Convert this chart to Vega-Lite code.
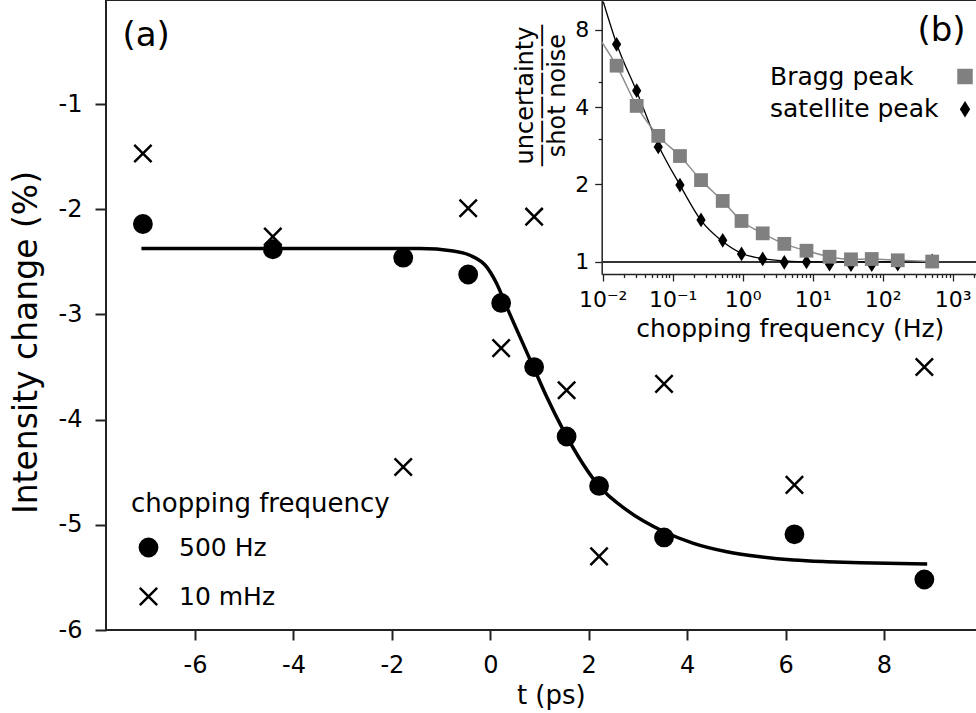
{
  "$schema": "https://vega.github.io/schema/vega-lite/v6.json",
  "width": 872,
  "height": 630,
  "autosize": {"type": "none"},
  "padding": {"left": 106, "top": 0, "right": 0, "bottom": 83},
  "background": "white",
  "config": {
    "font": "DejaVu Sans",
    "view": {"stroke": "#222", "strokeWidth": 2},
    "axis": {"grid": false, "labelColor": "black", "titleColor": "black", "tickColor": "#222", "domainColor": "#222", "titleFontWeight": "normal"},
    "legend": {"labelColor": "black", "titleColor": "black", "titleFontWeight": "normal"}
  },
  "datasets": {
    "main": [
      {"t": -7.06, "v": -2.14, "series": "500 Hz"},
      {"t": -4.42, "v": -2.38, "series": "500 Hz"},
      {"t": -1.77, "v": -2.46, "series": "500 Hz"},
      {"t": -0.45, "v": -2.62, "series": "500 Hz"},
      {"t": 0.22, "v": -2.89, "series": "500 Hz"},
      {"t": 0.89, "v": -3.5, "series": "500 Hz"},
      {"t": 1.55, "v": -4.16, "series": "500 Hz"},
      {"t": 2.21, "v": -4.63, "series": "500 Hz"},
      {"t": 3.53, "v": -5.12, "series": "500 Hz"},
      {"t": 6.18, "v": -5.09, "series": "500 Hz"},
      {"t": 8.82, "v": -5.52, "series": "500 Hz"},
      {"t": -7.06, "v": -1.47, "series": "10 mHz"},
      {"t": -4.42, "v": -2.26, "series": "10 mHz"},
      {"t": -1.77, "v": -4.45, "series": "10 mHz"},
      {"t": -0.45, "v": -1.99, "series": "10 mHz"},
      {"t": 0.22, "v": -3.32, "series": "10 mHz"},
      {"t": 0.89, "v": -2.07, "series": "10 mHz"},
      {"t": 1.55, "v": -3.72, "series": "10 mHz"},
      {"t": 2.21, "v": -5.3, "series": "10 mHz"},
      {"t": 3.53, "v": -3.66, "series": "10 mHz"},
      {"t": 6.18, "v": -4.62, "series": "10 mHz"},
      {"t": 8.82, "v": -3.5, "series": "10 mHz"}
    ],
    "fit": [
      {"t": -7.09, "v": -2.373},
      {"t": -1.43, "v": -2.373},
      {"t": -0.755, "v": -2.396},
      {"t": -0.415, "v": -2.437},
      {"t": -0.075, "v": -2.548},
      {"t": 0.128, "v": -2.706},
      {"t": 0.332, "v": -2.928},
      {"t": 0.602, "v": -3.213},
      {"t": 0.873, "v": -3.498},
      {"t": 1.145, "v": -3.783},
      {"t": 1.483, "v": -4.1},
      {"t": 2.21, "v": -4.632},
      {"t": 2.773, "v": -4.86},
      {"t": 3.532, "v": -5.066},
      {"t": 4.128, "v": -5.176},
      {"t": 4.808, "v": -5.256},
      {"t": 5.485, "v": -5.304},
      {"t": 6.163, "v": -5.335},
      {"t": 6.842, "v": -5.351},
      {"t": 7.52, "v": -5.361},
      {"t": 8.877, "v": -5.373}
    ],
    "labels": [
      {"t": -7.475, "v": -0.447, "text": "(a)"},
      {"t": 8.68, "v": -0.399, "text": "(b)"}
    ],
    "inset": [
      {"f": 0.0158, "r": 7.01, "peak": "satellite peak"},
      {"f": 0.0306, "r": 4.63, "peak": "satellite peak"},
      {"f": 0.0622, "r": 2.8, "peak": "satellite peak"},
      {"f": 0.127, "r": 1.99, "peak": "satellite peak"},
      {"f": 0.254, "r": 1.456, "peak": "satellite peak"},
      {"f": 0.518, "r": 1.214, "peak": "satellite peak"},
      {"f": 0.962, "r": 1.074, "peak": "satellite peak"},
      {"f": 1.93, "r": 1.027, "peak": "satellite peak"},
      {"f": 3.93, "r": 0.997, "peak": "satellite peak"},
      {"f": 8.15, "r": 1.0, "peak": "satellite peak"},
      {"f": 17.4, "r": 0.98, "peak": "satellite peak"},
      {"f": 35.2, "r": 0.976, "peak": "satellite peak"},
      {"f": 69.7, "r": 0.976, "peak": "satellite peak"},
      {"f": 164, "r": 0.98, "peak": "satellite peak"},
      {"f": 509, "r": 1.009, "peak": "satellite peak"},
      {"f": 0.0158, "r": 5.79, "peak": "Bragg peak"},
      {"f": 0.0306, "r": 4.04, "peak": "Bragg peak"},
      {"f": 0.0622, "r": 3.09, "peak": "Bragg peak"},
      {"f": 0.127, "r": 2.58, "peak": "Bragg peak"},
      {"f": 0.254, "r": 2.08, "peak": "Bragg peak"},
      {"f": 0.518, "r": 1.726, "peak": "Bragg peak"},
      {"f": 0.962, "r": 1.443, "peak": "Bragg peak"},
      {"f": 1.93, "r": 1.292, "peak": "Bragg peak"},
      {"f": 3.93, "r": 1.176, "peak": "Bragg peak"},
      {"f": 8.15, "r": 1.106, "peak": "Bragg peak"},
      {"f": 17.4, "r": 1.048, "peak": "Bragg peak"},
      {"f": 35.2, "r": 1.024, "peak": "Bragg peak"},
      {"f": 69.7, "r": 1.027, "peak": "Bragg peak"},
      {"f": 164, "r": 1.015, "peak": "Bragg peak"},
      {"f": 509, "r": 1.004, "peak": "Bragg peak"}
    ],
    "fitSat": [
      {"f": 0.0102, "r": 10.26},
      {"f": 0.0158, "r": 7.05},
      {"f": 0.0306, "r": 4.6},
      {"f": 0.0622, "r": 2.85},
      {"f": 0.127, "r": 1.99},
      {"f": 0.254, "r": 1.45},
      {"f": 0.518, "r": 1.2},
      {"f": 0.962, "r": 1.08},
      {"f": 1.93, "r": 1.03},
      {"f": 3.93, "r": 1.01},
      {"f": 8.15, "r": 1.0},
      {"f": 509, "r": 1.0}
    ],
    "fitBragg": [
      {"f": 0.00968, "r": 7.17},
      {"f": 0.0158, "r": 5.79},
      {"f": 0.0306, "r": 4.04},
      {"f": 0.0622, "r": 3.09},
      {"f": 0.127, "r": 2.58},
      {"f": 0.254, "r": 2.08},
      {"f": 0.518, "r": 1.726},
      {"f": 0.962, "r": 1.443},
      {"f": 1.93, "r": 1.292},
      {"f": 3.93, "r": 1.176},
      {"f": 8.15, "r": 1.106},
      {"f": 17.4, "r": 1.048},
      {"f": 35.2, "r": 1.024},
      {"f": 69.7, "r": 1.027},
      {"f": 164, "r": 1.015},
      {"f": 509, "r": 1.004}
    ],
    "unity": [
      {"f": 0.00968, "f2": 2297, "r": 1}
    ]
  },
  "resolve": {
    "scale": {"x": "independent", "y": "independent", "shape": "independent", "color": "independent", "stroke": "independent"},
    "axis": {"x": "independent", "y": "independent"},
    "legend": {"shape": "independent", "color": "independent", "stroke": "independent"}
  },
  "layer": [
    {
      "encoding": {
        "x": {
          "field": "t", "type": "quantitative",
          "scale": {"domain": [-7.81, 9.91], "nice": false, "zero": false},
          "axis": {
            "orient": "bottom", "domain": false,
            "values": [-6, -4, -2, 0, 2, 4, 6, 8],
            "labelExpr": "'' + datum.value",
            "labelFontSize": 24, "labelPadding": 13,
            "tickSize": 10, "tickWidth": 2,
            "title": "t (ps)", "titleFontSize": 26,
            "titleX": 444.8, "titleY": 73.5, "titleAlign": "center", "titleBaseline": "alphabetic"
          }
        },
        "y": {
          "field": "v", "type": "quantitative",
          "scale": {"domain": [-6, -0.01], "nice": false, "zero": false},
          "axis": {
            "orient": "left", "domain": false,
            "values": [-6, -5, -4, -3, -2, -1],
            "labelExpr": "'' + datum.value",
            "labelFontSize": 24, "labelPadding": 13,
            "tickSize": 11, "tickWidth": 2,
            "title": "Intensity change (%)", "titleFontSize": 33,
            "titleX": -69.5, "titleY": 342, "titleAngle": -90, "titleAlign": "center", "titleBaseline": "alphabetic"
          }
        }
      },
      "layer": [
        {
          "data": {"name": "fit"},
          "mark": {"type": "line", "color": "black", "strokeWidth": 3.5, "interpolate": "monotone"}
        },
        {
          "data": {"name": "main"},
          "mark": {"type": "point", "filled": true, "strokeWidth": 2.5, "size": 300, "opacity": 1},
          "encoding": {
            "shape": {
              "field": "series", "type": "nominal",
              "scale": {"domain": ["500 Hz", "10 mHz"], "range": ["circle", "M-1,-1L1,1M-1,1L1,-1"]},
              "legend": {
                "orient": "none", "legendX": 25, "legendY": 491,
                "title": "chopping frequency", "titleFontSize": 26, "titleLimit": 500,
                "labelFontSize": 25, "symbolSize": 300, "symbolStrokeWidth": 2.5,
                "rowPadding": 20, "titlePadding": 18, "labelOffset": 18, "symbolOffset": 5
              }
            },
            "color": {
              "field": "series", "type": "nominal",
              "scale": {"domain": ["500 Hz", "10 mHz"], "range": ["black", "black"]},
              "legend": {
                "orient": "none", "legendX": 25, "legendY": 491,
                "title": "chopping frequency", "titleFontSize": 26, "titleLimit": 500,
                "labelFontSize": 25, "symbolSize": 300, "symbolStrokeWidth": 2.5,
                "rowPadding": 20, "titlePadding": 18, "labelOffset": 18, "symbolOffset": 5
              }
            },
            "stroke": {
              "field": "series", "type": "nominal",
              "scale": {"domain": ["500 Hz", "10 mHz"], "range": ["black", "black"]},
              "legend": {
                "orient": "none", "legendX": 25, "legendY": 491,
                "title": "chopping frequency", "titleFontSize": 26, "titleLimit": 500,
                "labelFontSize": 25, "symbolSize": 300, "symbolStrokeWidth": 2.5,
                "rowPadding": 20, "titlePadding": 18, "labelOffset": 18, "symbolOffset": 5
              }
            }
          }
        },
        {
          "data": {"name": "labels"},
          "mark": {"type": "text", "fontSize": 34, "align": "left", "baseline": "alphabetic", "color": "black"},
          "encoding": {"text": {"field": "text"}}
        }
      ]
    },
    {
      "encoding": {
        "x": {
          "field": "f", "type": "quantitative",
          "scale": {"type": "log", "domain": [0.00968, 2297], "range": [495.7, 872], "nice": false},
          "axis": {
            "orient": "bottom", "offset": -356,
            "domainColor": "#222", "domainWidth": 1.5,
            "values": [0.01, 0.02, 0.03, 0.04, 0.05, 0.06, 0.07, 0.08, 0.09, 0.1, 0.2, 0.3, 0.4, 0.5, 0.6, 0.7, 0.8, 0.9, 1, 2, 3, 4, 5, 6, 7, 8, 9, 10, 20, 30, 40, 50, 60, 70, 80, 90, 100, 200, 300, 400, 500, 600, 700, 800, 900, 1000, 2000],
            "labelExpr": "datum.value == 0.01 ? '10⁻²' : datum.value == 0.1 ? '10⁻¹' : datum.value == 1 ? '10⁰' : datum.value == 10 ? '10¹' : datum.value == 100 ? '10²' : datum.value == 1000 ? '10³' : ''",
            "labelFontSize": 22, "labelPadding": 8, "labelFlush": false, "labelOverlap": false,
            "tickSize": {"condition": {"test": "indexof([0.01, 0.1, 1, 10, 100, 1000], datum.value) >= 0", "value": 7}, "value": 3.5},
            "tickWidth": 1.3,
            "title": "chopping frequency (Hz)", "titleFontSize": 25,
            "titleY": 62, "titleBaseline": "alphabetic"
          }
        },
        "y": {
          "field": "r", "type": "quantitative",
          "scale": {"type": "log", "base": 2, "domain": [0.898, 10.42], "range": [274, 0], "nice": false},
          "axis": {
            "orient": "left", "offset": -495.7,
            "domainColor": "#222", "domainWidth": 1.5,
            "values": [1, 2, 3, 4, 5, 8],
            "labelExpr": "indexof([1, 2, 4, 8], datum.value) >= 0 ? '' + datum.value : ''",
            "labelFontSize": 22, "labelPadding": 6, "labelFlush": false, "labelOverlap": false,
            "tickSize": {"condition": {"test": "indexof([1, 2, 4, 8], datum.value) >= 0", "value": 7}, "value": 3.5},
            "tickWidth": 1.3,
            "title": ["uncertainty", "——————", "shot noise"],
            "titleFontSize": 24, "titleLineHeight": 16,
            "titleX": -69, "titleY": 95, "titleAngle": -90, "titleAlign": "center", "titleBaseline": "alphabetic"
          }
        }
      },
      "layer": [
        {
          "data": {"name": "unity"},
          "mark": {"type": "rule", "color": "#333", "strokeWidth": 2, "clip": true},
          "encoding": {"x2": {"field": "f2"}}
        },
        {
          "data": {"name": "fitSat"},
          "mark": {"type": "line", "color": "black", "strokeWidth": 1.3, "interpolate": "monotone", "clip": true}
        },
        {
          "data": {"name": "fitBragg"},
          "mark": {"type": "line", "color": "#8c8c8c", "strokeWidth": 1.5, "interpolate": "monotone", "clip": true}
        },
        {
          "data": {"name": "inset"},
          "mark": {"type": "point", "filled": true, "opacity": 1, "size": 190, "clip": true},
          "encoding": {
            "shape": {
              "field": "peak", "type": "nominal",
              "scale": {"domain": ["Bragg peak", "satellite peak"], "range": ["square", "M0,-1.07L0.67,0L0,1.07L-0.67,0Z"]},
              "legend": {
                "orient": "none", "legendX": 846.5, "legendY": 64, "title": null,
                "labelFontSize": 25, "labelLimit": 400, "symbolSize": 240, "labelOffset": -207.5, "rowPadding": 6.7,
                "symbolStrokeWidth": 0
              }
            },
            "color": {
              "field": "peak", "type": "nominal",
              "scale": {"domain": ["Bragg peak", "satellite peak"], "range": ["#808080", "#000000"]},
              "legend": {
                "orient": "none", "legendX": 846.5, "legendY": 64, "title": null,
                "labelFontSize": 25, "labelLimit": 400, "symbolSize": 240, "labelOffset": -207.5, "rowPadding": 6.7,
                "symbolStrokeWidth": 0
              }
            }
          }
        }
      ]
    }
  ]
}
